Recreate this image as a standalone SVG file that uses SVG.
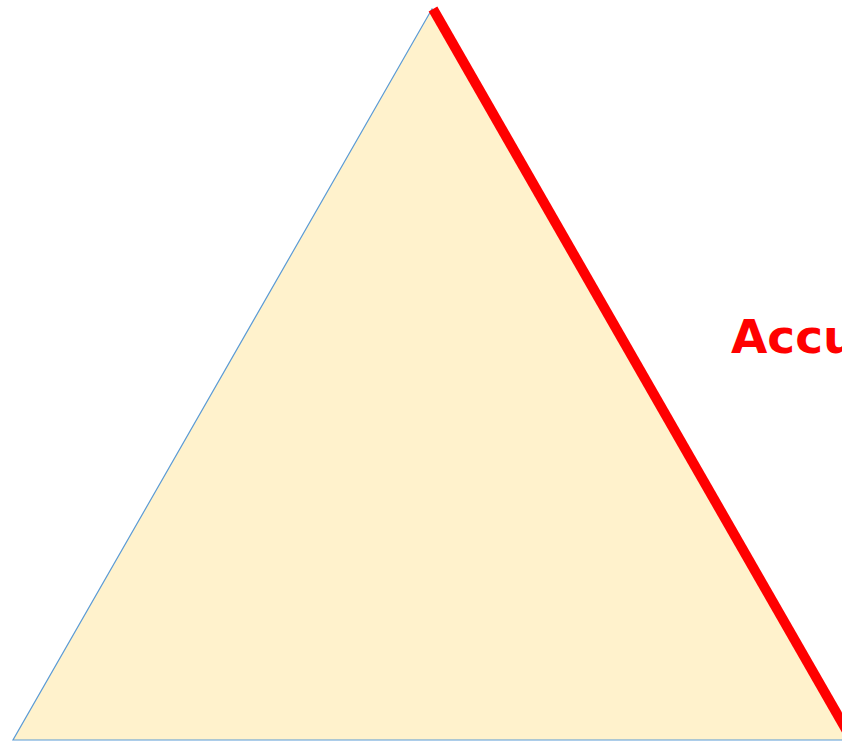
<svg xmlns="http://www.w3.org/2000/svg" width="842" height="742" viewBox="0 0 842 742">
<style>
.tri{fill:#FFF2CC;stroke:#5B9BD5;stroke-width:1.2}
.edge{stroke:#FF0000;stroke-width:10;fill:none}
.lbl{font-family:"DejaVu Sans",Verdana,sans-serif;font-weight:bold;font-size:47px;fill:#FF0000}
</style>
<rect width="842" height="742" fill="#FFFFFF"/>
<g id="triangle">
<polygon class="tri" points="432,9 13,740 852,740"/>
</g>
<g id="connectors">
<line class="edge" x1="433" y1="9" x2="852" y2="740"/>
</g>
<g id="label">
<text class="lbl" x="731" y="353">Accu</text>
</g>
</svg>
